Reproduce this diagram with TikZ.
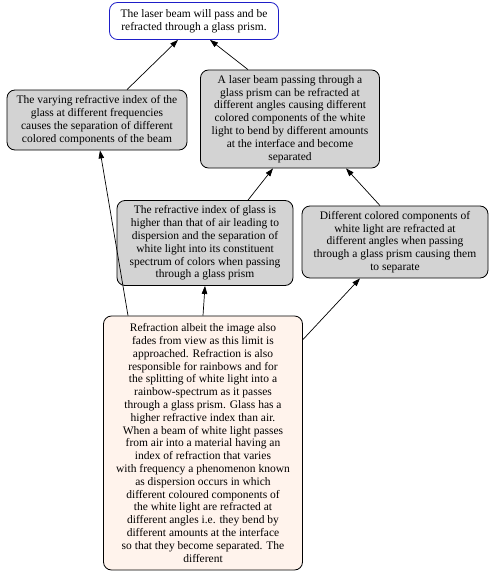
\documentclass[tikz,border=0pt]{standalone}
\usepackage{fontspec}
\setmainfont{Liberation Serif}
\usepackage{tikz}
\usetikzlibrary{arrows,arrows.meta,shapes,positioning}
\usepackage{xcolor}
\definecolor{argblue}{RGB}{30,30,200}
\definecolor{arggray}{RGB}{211,211,211}
\definecolor{argshell}{RGB}{255,243,236}
\tikzstyle{claim} = [rectangle, rounded corners=8pt, text centered, align=center, draw=argblue, fill=white, font=\fontsize{11.5}{12.8}\selectfont, inner sep=2pt, line width=0.8pt]
\tikzstyle{premise} = [rectangle, rounded corners=8pt, text centered, align=center, draw=black, fill=arggray, font=\fontsize{11.5}{12.8}\selectfont, inner sep=2pt, line width=0.8pt]
\tikzstyle{evidence} = [rectangle, rounded corners=8pt, text centered, align=center, draw=black, fill=argshell, font=\fontsize{11.5}{12.8}\selectfont, inner sep=2pt, line width=0.8pt]
\tikzstyle{arrow} = [->,>={Stealth[length=8pt,width=5.5pt,inset=0pt]},color=black,line width=0.7pt]

\begin{document}
\begin{tikzpicture}[x=1pt, y=1pt]
\useasboundingbox (0,0) rectangle (491,-578);
% Argument nodes
\node[claim, minimum width=169pt, minimum height=37pt] (laser) at (194,-21) {The laser beam will pass and be\\refracted through a glass prism.};
\node[premise, minimum width=180pt, minimum height=60pt] (varying) at (97,-120) {The varying refractive index of the\\glass at different frequencies\\causes the separation of different\\colored components of the beam};
\node[premise, minimum width=179pt, minimum height=98pt] (passing) at (290,-119) {A laser beam passing through a\\glass prism can be refracted at\\different angles causing different\\colored components of the white\\light to bend by different amounts\\at the interface and become\\separated};
\node[premise, minimum width=176pt, minimum height=85pt] (higher) at (205,-243) {The refractive index of glass is\\higher than that of air leading to\\dispersion and the separation of\\white light into its constituent\\spectrum of colors when passing\\through a glass prism};
\node[premise, minimum width=186pt, minimum height=72pt] (colored) at (395,-242) {Different colored components of\\white light are refracted at\\different angles when passing\\through a glass prism causing them\\to separate};
\node[evidence, minimum width=199pt, minimum height=254pt] (refraction) at (203,-443) {Refraction albeit the image also\\fades from view as this limit is\\approached. Refraction is also\\responsible for rainbows and for\\the splitting of white light into a\\rainbow-spectrum as it passes\\through a glass prism. Glass has a\\higher refractive index than air.\\When a beam of white light passes\\from air into a material having an\\index of refraction that varies\\with frequency a phenomenon known\\as dispersion occurs in which\\different coloured components of\\the white light are refracted at\\different angles i.e. they bend by\\different amounts at the interface\\so that they become separated. The\\different};

\draw[arrow] ([xshift=30pt]varying.north) -- ([xshift=-16pt]laser.south);
\draw[arrow] ([xshift=-42pt]passing.north) -- ([xshift=16pt]laser.south);
\draw[arrow] ([xshift=-75pt]refraction.north) -- ([xshift=3pt]varying.south);
\draw[arrow] (refraction.north) -- (higher.south);
\draw[arrow] ([yshift=-24pt]refraction.north east) -- ([xshift=-35pt]colored.south);
\draw[arrow] ([xshift=43pt]higher.north) -- ([xshift=-17pt]passing.south);
\draw[arrow] ([xshift=-15pt]colored.north) -- ([xshift=56pt]passing.south);
\end{tikzpicture}
\end{document}
